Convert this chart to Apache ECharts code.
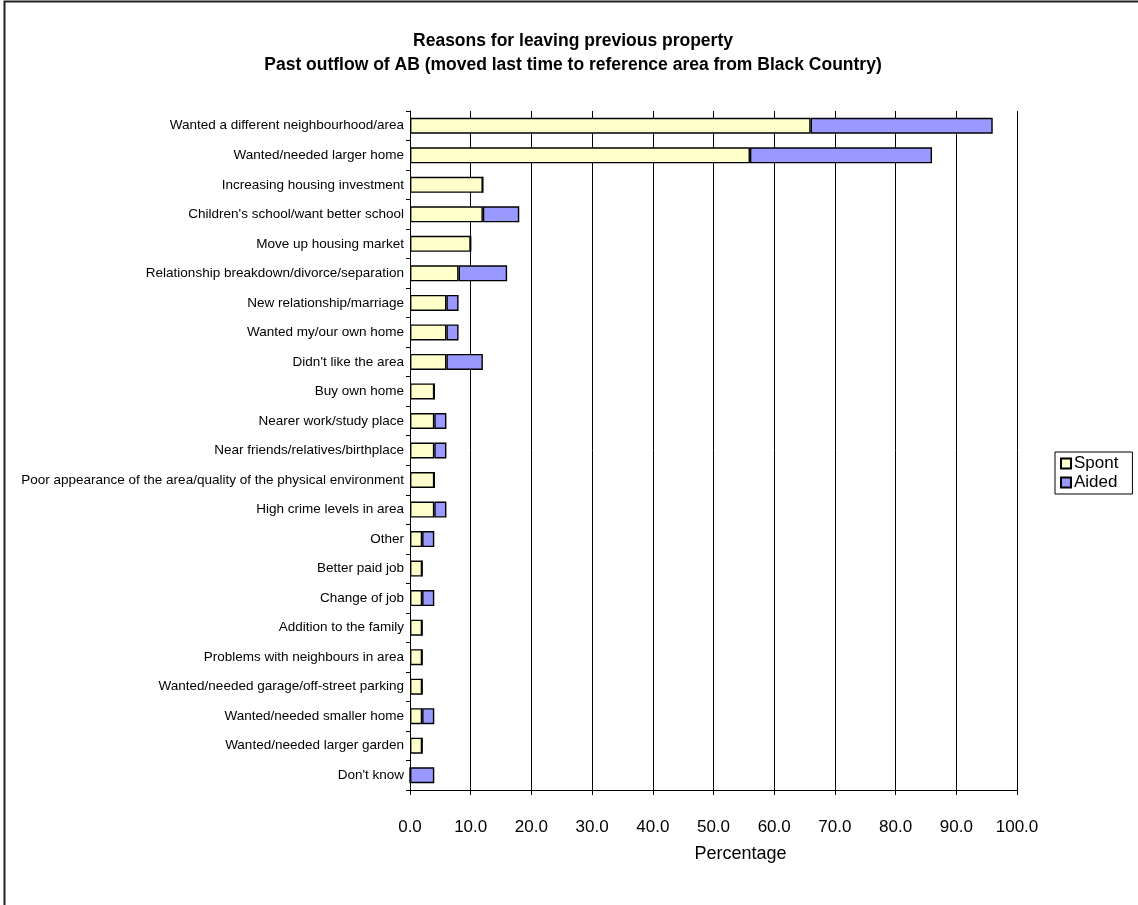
<!DOCTYPE html>
<html>
<head>
<meta charset="utf-8">
<title>Reasons for leaving previous property</title>
<script src="https://cdn.jsdelivr.net/npm/echarts@6/dist/echarts.min.js"></script>
<style>
  html, body { margin: 0; padding: 0; background: #ffffff; }
  #chart { width: 1138px; height: 905px; }
</style>
</head>
<body>
<div id="chart"></div>
<script>
// Reasons for leaving the previous property, in percent
const categories = [
  "Wanted a different neighbourhood/area",
  "Wanted/needed larger home",
  "Increasing housing investment",
  "Children's school/want better school",
  "Move up housing market",
  "Relationship breakdown/divorce/separation",
  "New relationship/marriage",
  "Wanted my/our own home",
  "Didn't like the area",
  "Buy own home",
  "Nearer work/study place",
  "Near friends/relatives/birthplace",
  "Poor appearance of the area/quality of the physical environment",
  "High crime levels in area",
  "Other",
  "Better paid job",
  "Change of job",
  "Addition to the family",
  "Problems with neighbours in area",
  "Wanted/needed garage/off-street parking",
  "Wanted/needed smaller home",
  "Wanted/needed larger garden",
  "Don't know"
];

const spont = [66, 56, 12, 12, 10, 8, 6, 6, 6, 4, 4, 4, 4, 4, 2, 2, 2, 2, 2, 2, 2, 2, 0];
const aided = [30, 30, 0, 6, 0, 8, 2, 2, 6, 0, 2, 2, 0, 2, 2, 0, 2, 0, 0, 0, 2, 0, 4];

const xTicks = { min: 0, max: 100, interval: 10 };

const chart = echarts.init(document.getElementById('chart'), null, { renderer: 'canvas' });

const FONT = 'Liberation Sans, Arial, sans-serif';

chart.setOption({
  backgroundColor: '#ffffff',
  animation: false,
  title: {
    text: 'Reasons for leaving previous property\nPast outflow of AB (moved last time to reference area from Black Country)',
    left: 568,
    top: 24,
    textAlign: 'center',
    textStyle: {
      fontFamily: FONT,
      fontSize: 17.5,
      fontWeight: 'bold',
      color: '#000000',
      lineHeight: 24
    }
  },
  legend: {
    orient: 'vertical',
    left: 1055,
    top: 452,
    padding: [3, 14, 3, 5],
    itemGap: 2,
    itemWidth: 10,
    itemHeight: 10,
    borderColor: '#000000',
    borderWidth: 1,
    backgroundColor: '#ffffff',
    textStyle: { fontFamily: FONT, fontSize: 17, color: '#000000', padding: [0, 0, 0, -2] },
    data: [
      { name: 'Spont', icon: 'rect' },
      { name: 'Aided', icon: 'rect' }
    ]
  },
  grid: {
    left: 410,
    right: 121,
    top: 111,
    bottom: 115,
    containLabel: false
  },
  xAxis: {
    type: 'value',
    min: xTicks.min,
    max: xTicks.max,
    interval: xTicks.interval,
    name: 'Percentage',
    nameLocation: 'middle',
    nameGap: 55,
    nameTextStyle: { fontFamily: FONT, fontSize: 18, color: '#000000', padding: [0, 0, 0, 54] },
    axisLine: { show: true, lineStyle: { color: '#000000', width: 1 } },
    axisTick: { show: true, length: 5, lineStyle: { color: '#000000' } },
    axisLabel: {
      fontFamily: FONT,
      fontSize: 17,
      color: '#000000',
      margin: 29,
      formatter: v => v.toFixed(1)
    },
    splitLine: { show: true, lineStyle: { color: '#000000', width: 1 } }
  },
  yAxis: {
    type: 'category',
    inverse: true,
    data: categories,
    axisLine: { show: true, lineStyle: { color: '#000000', width: 1 } },
    axisTick: { show: true, length: 4, lineStyle: { color: '#000000' } },
    axisLabel: { fontFamily: FONT, fontSize: 13.5, color: '#000000', margin: 6 },
    splitLine: { show: false }
  },
  series: [
    {
      name: 'Spont',
      type: 'bar',
      stack: 'total',
      barWidth: 16,
      data: spont,
      itemStyle: { color: '#FFFFCC', borderColor: '#000000', borderWidth: 1.4 }
    },
    {
      name: 'Aided',
      type: 'bar',
      stack: 'total',
      barWidth: 16,
      data: aided,
      itemStyle: { color: '#9999FF', borderColor: '#000000', borderWidth: 1.4 }
    }
  ],
  graphic: [
    {
      type: 'rect',
      shape: { x: 4.5, y: 1.5, width: 1140, height: 910 },
      style: { fill: null, stroke: '#222222', lineWidth: 2 },
      silent: true,
      z: -1
    }
  ]
});
</script>
</body>
</html>
